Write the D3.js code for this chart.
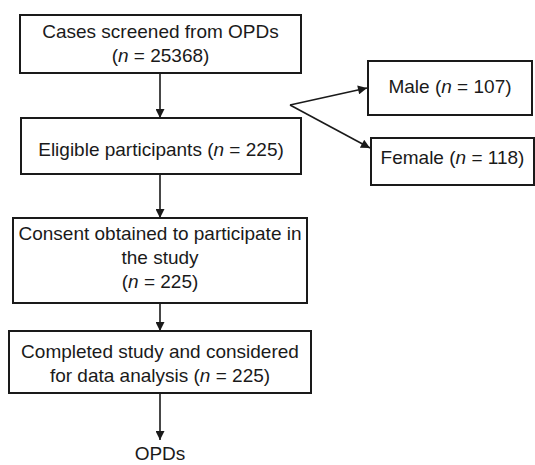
<!DOCTYPE html>
<html>
<head>
<meta charset="utf-8">
<script src="https://cdn.jsdelivr.net/npm/d3@7"></script>
<style>
  body { margin: 0; background: #fff; }
  text { font-family: "Liberation Sans", Arial, sans-serif; font-size: 19px; fill: #1a1a1a; }
</style>
</head>
<body>
<div id="chart"></div>
<script>
// flowchart content
const stepIds = ["screened", "eligible", "consent", "completed", "opds", "male", "female"];
const stepLabels = [
  ["Cases screened from OPDs", "(n = 25368)"],
  ["Eligible participants (n = 225)"],
  ["Consent obtained to participate in", "the study", "(n = 225)"],
  ["Completed study and considered", "for data analysis (n = 225)"],
  ["OPDs"],
  ["Male (n = 107)"],
  ["Female (n = 118)"]
];
const stepCounts = [25368, 225, 225, 225, null, 107, 118];
const links = [
  ["screened", "eligible"],
  ["eligible", "consent"],
  ["consent", "completed"],
  ["completed", "opds"],
  ["eligible", "male"],
  ["eligible", "female"]
];

// layout of the boxes (x0, y0, x1, y1), box:false means plain text
const layout = {
  screened:  {x0: 20,  y0: 15,  x1: 301, y1: 73,  dy: -1},
  eligible:  {x0: 21,  y0: 118, x1: 301, y1: 174, dy: 3},
  consent:   {x0: 13,  y0: 218, x1: 307, y1: 303, dy: -3},
  completed: {x0: 9,   y0: 331, x1: 311, y1: 393, dy: 1},
  opds:      {x0: 110, y0: 440, x1: 210, y1: 464, dy: 1, box: false},
  male:      {x0: 368, y0: 61,  x1: 532, y1: 115, dy: -2},
  female:    {x0: 371, y0: 138, x1: 534, y1: 185, dy: -4}
};
const branch = {x: 290, y: 105};

const W = 535, H = 465, fs = 19, lh = 23.7;

const nodes = stepIds.map((id, i) => Object.assign({id: id, lines: stepLabels[i], n: stepCounts[i]}, layout[id]));
const byId = new Map(nodes.map(d => [d.id, d]));

const svg = d3.select("#chart").append("svg")
  .attr("width", W)
  .attr("height", H);

svg.append("defs").append("marker")
  .attr("id", "head")
  .attr("viewBox", "0 0 10 10")
  .attr("refX", 10).attr("refY", 5)
  .attr("markerWidth", 10).attr("markerHeight", 9)
  .attr("markerUnits", "userSpaceOnUse")
  .attr("orient", "auto")
  .append("path")
  .attr("d", "M0,0L10,5L0,10Z")
  .attr("fill", "#1a1a1a");

// connectors
const line = d3.line();
svg.append("g").selectAll("path")
  .data(links)
  .join("path")
  .attr("d", function(l) {
    const s = byId.get(l[0]), t = byId.get(l[1]);
    if (t.id === "male" || t.id === "female") {
      const tx = t.x0 - 1;
      const ty = t.id === "male" ? (t.y0 + t.y1) / 2 : t.y0 + 10;
      return line([[branch.x, branch.y], [tx, ty]]);
    }
    const cx = 160;
    return line([[cx, s.y1], [cx, t.y0]]);
  })
  .attr("fill", "none")
  .attr("stroke", "#1a1a1a")
  .attr("stroke-width", 1.6)
  .attr("marker-end", "url(#head)");

// boxes
const g = svg.append("g").selectAll("g")
  .data(nodes)
  .join("g");

g.filter(d => d.box !== false).append("rect")
  .attr("x", d => d.x0)
  .attr("y", d => d.y0)
  .attr("width", d => d.x1 - d.x0)
  .attr("height", d => d.y1 - d.y0)
  .attr("fill", "#fff")
  .attr("stroke", "#1a1a1a")
  .attr("stroke-width", 2);

const txt = g.append("text")
  .attr("text-anchor", "middle");

txt.each(function(d) {
  const cx = (d.x0 + d.x1) / 2, cy = (d.y0 + d.y1) / 2;
  const first = cy + 0.35 * fs - (d.lines.length - 1) * lh / 2 + d.dy;
  const t = d3.select(this);
  d.lines.forEach(function(s, i) {
    const parts = s.split(/\(n = /);
    const ts = t.append("tspan").attr("x", cx).attr("y", first + i * lh);
    if (parts.length === 1) { ts.text(s); return; }
    ts.text(parts[0] + "(");
    t.append("tspan").attr("font-style", "italic").text("n");
    t.append("tspan").text(" = " + parts[1]);
  });
});
</script>
</body>
</html>
